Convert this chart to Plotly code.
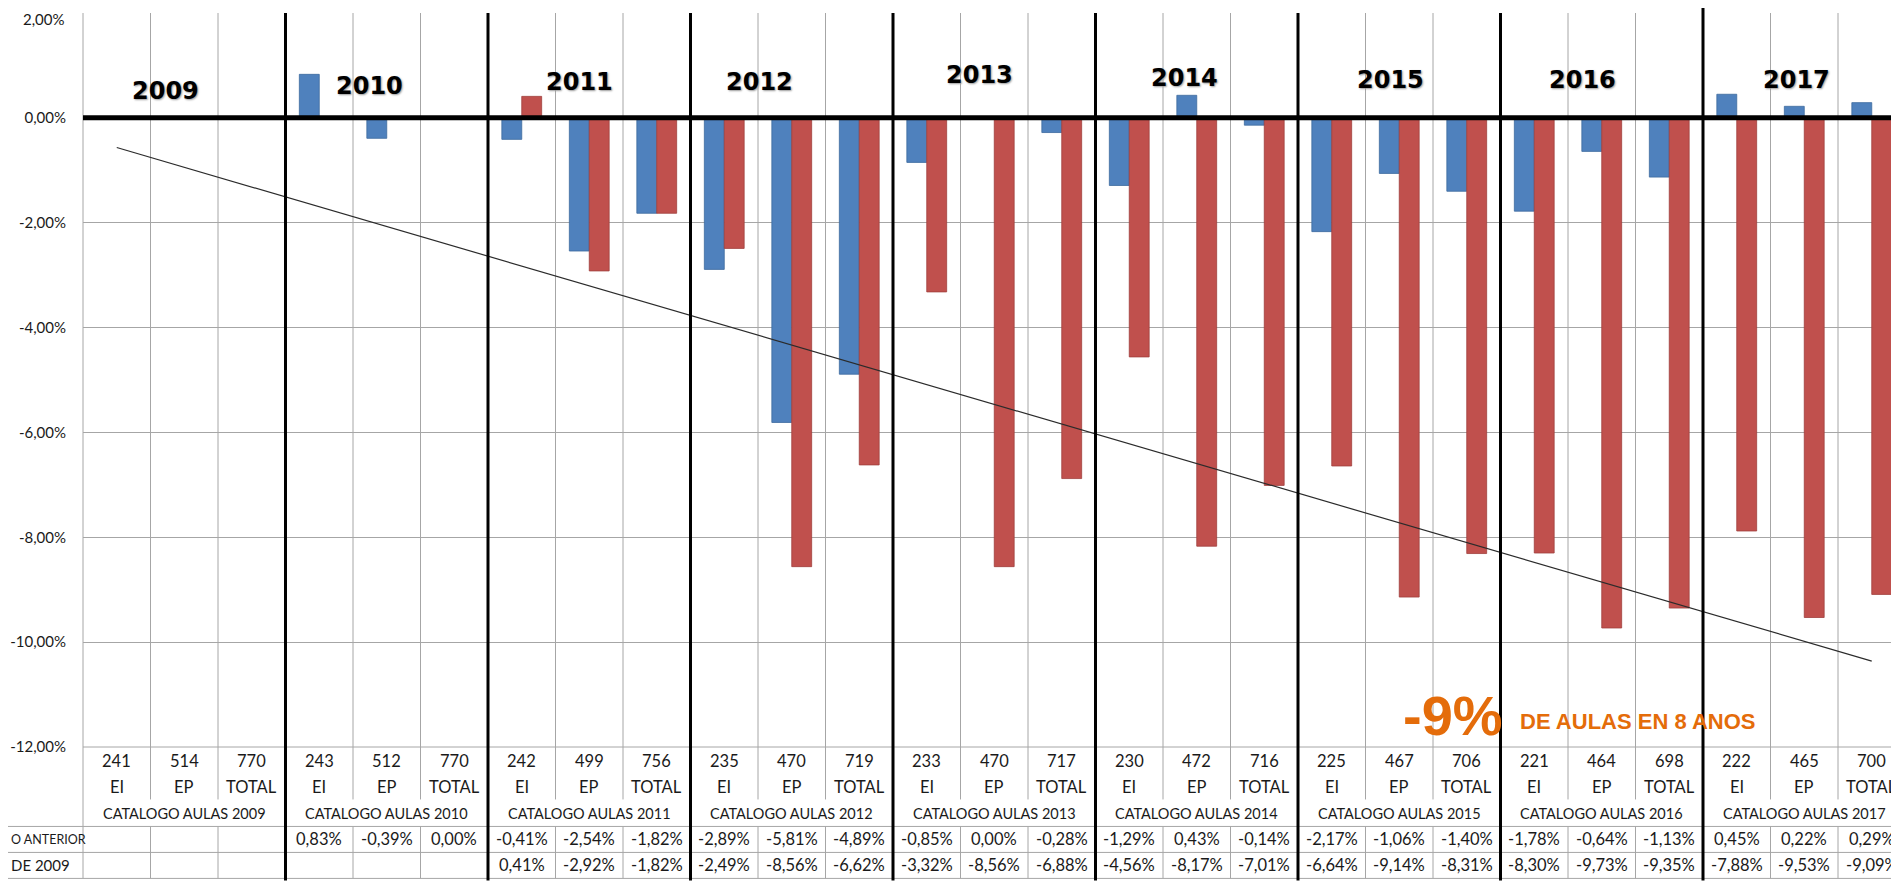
import numpy as np
import plotly.graph_objects as go

# ---- data ----
years = ['2009', '2010', '2011', '2012', '2013', '2014', '2015', '2016', '2017']
niveles = ['EI', 'EP', 'TOTAL']

aulas = [241, 514, 770,  243, 512, 770,  242, 499, 756,
         235, 470, 719,  233, 470, 717,  230, 472, 716,
         225, 467, 706,  221, 464, 698,  222, 465, 700]

# % change vs previous year (blue)
resp_anterior = [None, None, None,  0.83, -0.39, 0.00,  -0.41, -2.54, -1.82,
                 -2.89, -5.81, -4.89,  -0.85, 0.00, -0.28,  -1.29, 0.43, -0.14,
                 -2.17, -1.06, -1.40,  -1.78, -0.64, -1.13,  0.45, 0.22, 0.29]

# % change vs 2009 (red)
resp_2009 = [None, None, None,  None, None, None,  0.41, -2.92, -1.82,
             -2.49, -8.56, -6.62,  -3.32, -8.56, -6.88,  -4.56, -8.17, -7.01,
             -6.64, -9.14, -8.31,  -8.30, -9.73, -9.35,  -7.88, -9.53, -9.09]

yticks = [2, 0, -2, -4, -6, -8, -10, -12]

# ---- geometry (page pixels; the page body has an 8px margin) ----
OFF = 8
W, H = 1899 - OFF, 881 - OFF
ML, MR, MT, MB = 83 - OFF, 0, 13 - OFF, 133.5
PW = W - ML - MR
PH = H - MT - MB
COL = 67.5  # px per category

BLUE = '#4F81BD'
RED = '#C0504D'
GRID = '#A6A6A6'
FONT = 'Lato'


def py(p):
    # page pixel row -> paper y
    return (H - MB - (p - OFF)) / PH


def px(p):
    # page pixel column -> paper x
    return (p - OFF - ML) / PW


def pct(v):
    if v is None:
        return ''
    return ('%.2f%%' % v).replace('.', ',')


n = len(aulas)
xs = list(range(n))

fig = go.Figure()

fig.add_trace(go.Bar(x=xs, y=resp_anterior, name='Respecto año anterior',
                     marker=dict(color=BLUE, line=dict(color='#3C6A9E', width=0.8)),
                     hoverinfo='skip'))
fig.add_trace(go.Bar(x=xs, y=resp_2009, name='Respecto de 2009',
                     marker=dict(color=RED, line=dict(color='#A03F3C', width=0.8)),
                     hoverinfo='skip'))

# linear trend of the red series (like Excel's trendline)
fx = np.array([i for i, v in enumerate(resp_2009) if v is not None])
fy = np.array([v for v in resp_2009 if v is not None])
slope, icpt = np.polyfit(fx, fy, 1)
tx = np.array([0, n - 1])
fig.add_trace(go.Scatter(x=tx, y=slope * tx + icpt, mode='lines',
                         line=dict(color='#2b2b2b', width=1.2), hoverinfo='skip'))

shapes = []
# thin category separators (plot + first table rows, and value rows)
for k in range(1, n):
    if k % 3 == 0:
        continue
    shapes.append(dict(type='line', xref='x', yref='paper', x0=k - 0.5, x1=k - 0.5,
                       y0=1, y1=py(800), line=dict(color=GRID, width=1), layer='below'))
    shapes.append(dict(type='line', xref='x', yref='paper', x0=k - 0.5, x1=k - 0.5,
                       y0=py(827), y1=py(879), line=dict(color=GRID, width=1), layer='below'))
# left edge
shapes.append(dict(type='line', xref='paper', yref='paper', x0=0, x1=0,
                   y0=1, y1=py(879), line=dict(color=GRID, width=1)))
# table horizontal rules
for p in [747.5, 827, 853, 879]:
    x0 = 0 if p < 800 else px(OFF)
    shapes.append(dict(type='line', xref='paper', yref='paper', x0=x0, x1=1,
                       y0=py(p), y1=py(p), line=dict(color=GRID, width=1)))
# thick year separators
for g in range(1, len(years)):
    b = 3 * g - 0.5
    top = py(OFF) if g == len(years) - 1 else 1
    shapes.append(dict(type='line', xref='x', yref='paper', x0=b, x1=b,
                       y0=top, y1=py(881), line=dict(color='black', width=3)))
# zero line on top
shapes.append(dict(type='line', xref='paper', yref='y', x0=0, x1=1, y0=0, y1=0,
                   line=dict(color='black', width=5)))

ann = []
# year titles inside the plot (text boxes of the original)
year_pos = [(0.72, 0.52), (3.74, 0.61), (6.85, 0.69), (9.52, 0.69), (12.78, 0.82),
            (15.82, 0.76), (18.87, 0.72), (21.71, 0.72), (24.88, 0.72)]
for yr, (ax_, ay_) in zip(years, year_pos):
    ann.append(dict(x=ax_, y=ay_, xref='x', yref='y', text=yr, showarrow=False,
                    font=dict(family='DejaVu Sans', size=24, color='black',
                              weight='bold', shadow='1px 1px 2px #9a9a9a')))

# top tick label sits right at the page edge: draw it a touch lower so it isn't clipped
tickfont = dict(family=FONT, size=15, color='#1a1a1a')
ann.append(dict(x=px(67), y=yticks[0], xref='paper', yref='y', text=pct(yticks[0]),
                xanchor='right', yanchor='top', yshift=5, showarrow=False, font=tickfont))

# table texts
tf = dict(family=FONT, size=16.5, color='#1a1a1a')
tf_cat = dict(family=FONT, size=14.5, color='#1a1a1a')


def cell(x, p, text, font=tf, **kw):
    d = dict(x=x, y=py(p), xref='x', yref='paper', text=text, showarrow=False,
             yanchor='middle', font=font)
    d.update(kw)
    ann.append(d)


for i in range(n):
    cell(i, 762, str(aulas[i]))
    cell(i, 788, niveles[i % 3])
    cell(i, 840, pct(resp_anterior[i]))
    cell(i, 866, pct(resp_2009[i]))
for g, yr in enumerate(years):
    cell(3 * g + 1, 814, 'CATALOGO AULAS ' + yr, font=tf_cat)
cell(px(OFF + 1), 840, 'O ANTERIOR', xref='paper', xanchor='left',
     font=dict(family=FONT, size=12.5, color='#1a1a1a'))
cell(px(OFF + 1), 866, 'DE 2009', xref='paper', xanchor='left',
     font=dict(family=FONT, size=15, color='#1a1a1a'))

# orange call-out
ann.append(dict(x=19.79, y=-11.4, xref='x', yref='y', text='-9%', showarrow=False,
                font=dict(family='Liberation Sans', size=56, color='#E46C0A', weight='bold')))
ann.append(dict(x=22.53, y=-11.52, xref='x', yref='y', text='DE AULAS EN 8 ANOS',
                showarrow=False,
                font=dict(family='Liberation Sans', size=22, color='#E46C0A', weight='bold')))

fig.update_layout(
    width=W, height=H,
    margin=dict(l=ML, r=MR, t=MT, b=MB),
    paper_bgcolor='white', plot_bgcolor='white',
    barmode='group', bargap=0.41, bargroupgap=0,
    showlegend=False,
    shapes=shapes, annotations=ann,
    font=dict(family=FONT, color='#1a1a1a'),
)
fig.update_xaxes(range=[-0.5, -0.5 + PW / COL], showticklabels=False, showgrid=False,
                 zeroline=False, showline=False, fixedrange=True, automargin=False)
fig.update_yaxes(range=[-12, 2], tickvals=yticks,
                 ticktext=[''] + [pct(v) for v in yticks[1:]],
                 showgrid=True, gridcolor=GRID, gridwidth=1, zeroline=False, showline=False,
                 ticklabelstandoff=16, ticklabeloverflow='allow', tickfont=tickfont,
                 fixedrange=True, automargin=False)

fig.write_html("out.html")
